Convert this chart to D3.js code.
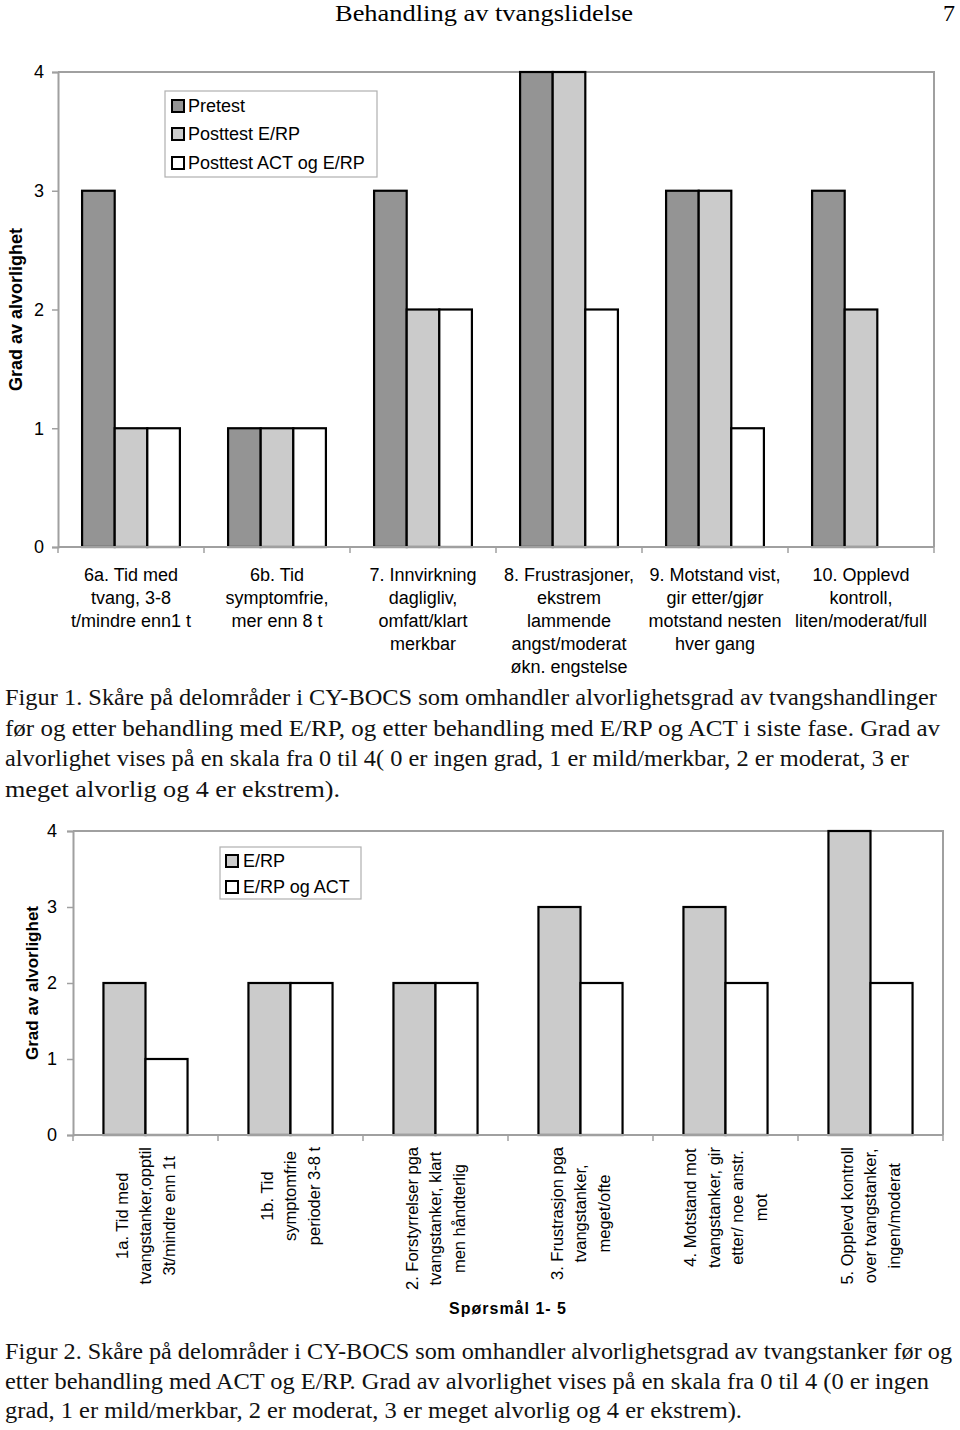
<!DOCTYPE html>
<html><head><meta charset="utf-8">
<script src="https://cdn.jsdelivr.net/npm/d3@7/dist/d3.min.js"></script>
<style>
html,body{margin:0;padding:0;background:#fff;}
svg{display:block;}
.sans{font-family:"Liberation Sans",Arial,sans-serif;}
.serif{font-family:"Liberation Serif","Times New Roman",serif;}
</style></head>
<body>
<svg id="page" width="960" height="1430"></svg>
<script>
// ---------- DATA ----------
const categories1 = [
  ["6a. Tid med","tvang, 3-8","t/mindre enn1 t"],
  ["6b. Tid","symptomfrie,","mer enn 8 t"],
  ["7. Innvirkning","dagligliv,","omfatt/klart","merkbar"],
  ["8. Frustrasjoner,","ekstrem","lammende","angst/moderat","økn. engstelse"],
  ["9. Motstand vist,","gir etter/gjør","motstand nesten","hver gang"],
  ["10. Opplevd","kontroll,","liten/moderat/full"]
];
const series1Names = ["Pretest","Posttest E/RP","Posttest ACT og E/RP"];
const pretest     = [3,1,3,4,3,3];
const posttestERP = [1,1,2,4,3,2];
const posttestACT = [1,1,2,2,1,0];

const categories2 = [
  ["1a. Tid med","tvangstanker,opptil","3t/mindre enn 1t"],
  ["1b. Tid","symptomfrie","perioder 3-8 t"],
  ["2. Forstyrrelser pga","tvangstanker, klart","men håndterlig"],
  ["3. Frustrasjon pga","tvangstanker,","meget/ofte"],
  ["4. Motstand mot","tvangstanker, gir","etter/ noe anstr.","mot"],
  ["5. Opplevd kontroll","over tvangstanker,","ingen/moderat"]
];
const series2Names = ["E/RP","E/RP og ACT"];
const erp    = [2,2,2,3,3,4];
const erpAct = [1,2,2,2,2,2];

const yTicks = [0,1,2,3,4];
const yTitle = "Grad av alvorlighet";
const xTitle2 = "Spørsmål 1- 5";

const headerTitle = "Behandling av tvangslidelse";
const pageNumber = "7";
const caption1 = [
  "Figur 1. Skåre på delområder i CY-BOCS som omhandler alvorlighetsgrad av tvangshandlinger",
  "før og etter behandling med E/RP, og etter behandling med E/RP og ACT i siste fase. Grad av",
  "alvorlighet vises på en skala fra 0 til 4( 0 er ingen grad, 1 er mild/merkbar, 2 er moderat, 3 er",
  "meget alvorlig og 4 er ekstrem)."
];
const caption2 = [
  "Figur 2. Skåre på delområder i CY-BOCS som omhandler alvorlighetsgrad av tvangstanker før og",
  "etter behandling med ACT og E/RP. Grad av alvorlighet vises på en skala fra 0 til 4 (0 er ingen",
  "grad, 1 er mild/merkbar, 2 er moderat, 3 er meget alvorlig og 4 er ekstrem)."
];

// ---------- DRAW ----------
const svg = d3.select("#page");
const GRAY = "#a0a0a0";

// header
svg.append("text").attr("class","serif").attr("x",335).attr("y",21)
  .attr("font-size",24).attr("textLength",298).attr("lengthAdjust","spacingAndGlyphs")
  .text(headerTitle);
svg.append("text").attr("class","serif").attr("x",949).attr("y",21)
  .attr("font-size",24).attr("text-anchor","middle").text(pageNumber);

function captionBlock(lines, widths, x0, y0, lh, fs){
  lines.forEach((t,i)=>{
    svg.append("text").attr("class","serif").attr("x",x0).attr("y",y0+i*lh)
      .attr("font-size",fs).attr("textLength",widths[i]).attr("lengthAdjust","spacingAndGlyphs")
      .attr("fill","#111").text(t);
  });
}
captionBlock(caption1,[932,935,904,335],5,705,30.5,23);
captionBlock(caption2,[947,924,737],5,1359,29.5,23);

function drawChart(opt){
  const g = svg.append("g").attr("class","sans");
  const y = d3.scaleLinear().domain([0,4]).range([opt.y0,opt.y1]);
  const x = d3.scaleBand().domain(d3.range(opt.cats.length))
    .range([opt.x0,opt.x1]).paddingInner(opt.pad).paddingOuter(opt.pad/2);
  const xs = d3.scaleBand().domain(d3.range(opt.series.length)).range([0,x.bandwidth()]);
  const idx = d3.scaleLinear().domain([0,opt.cats.length]).range([opt.x0,opt.x1]);

  // frame (top + right)
  g.append("path").attr("d",`M${opt.x0},${opt.y1}H${opt.x1}V${opt.y0}`)
    .attr("fill","none").attr("stroke",GRAY).attr("stroke-width",2);

  // bars
  opt.series.forEach((vals,s)=>{
    g.selectAll(null).data(vals.map((v,i)=>({v,i})).filter(d=>d.v>0)).enter()
      .append("rect")
      .attr("x",d=>x(d.i)+xs(s)).attr("width",xs.bandwidth())
      .attr("y",d=>y(d.v)).attr("height",d=>y(0)-y(d.v))
      .attr("fill",opt.colors[s]).attr("stroke","#000").attr("stroke-width",2.2);
  });

  // y axis
  const ya = g.append("g").attr("transform",`translate(${opt.x0},0)`)
    .call(d3.axisLeft(y).tickValues(yTicks).tickFormat(d3.format("d")).tickSizeOuter(0).tickSize(6).tickPadding(opt.tickPad));
  ya.select(".domain").attr("stroke",GRAY).attr("stroke-width",2);
  ya.selectAll(".tick line").attr("stroke",GRAY).attr("stroke-width",1.5);
  ya.selectAll(".tick text").attr("font-size",18).attr("fill","#000")
    .attr("font-family","Liberation Sans, Arial, sans-serif");

  // x axis baseline + boundary ticks
  g.append("line").attr("x1",opt.x0).attr("x2",opt.x1).attr("y1",y(0)).attr("y2",y(0))
    .attr("stroke",GRAY).attr("stroke-width",2);
  g.selectAll(null).data(d3.range(opt.cats.length+1)).enter().append("line")
    .attr("x1",d=>idx(d)).attr("x2",d=>idx(d)).attr("y1",y(0)).attr("y2",y(0)+6)
    .attr("stroke",GRAY).attr("stroke-width",1.5);

  // y title
  g.append("text").attr("transform",`translate(${opt.yTitleX},${(y(0)+y(4))/2}) rotate(-90)`)
    .attr("text-anchor","middle").attr("font-weight","bold").attr("font-size",opt.yTitleSize)
    .attr("dy","0.35em").text(yTitle);

  // legend
  const L = opt.legend;
  g.append("rect").attr("x",L.x).attr("y",L.y).attr("width",L.w).attr("height",L.h)
    .attr("fill","#fff").attr("stroke","#b0b0b0").attr("stroke-width",1.2);
  opt.names.forEach((n,i)=>{
    const cy = L.rowY[i];
    g.append("rect").attr("x",L.sx).attr("y",cy-6).attr("width",12).attr("height",12)
      .attr("fill",opt.colors[i]).attr("stroke","#000").attr("stroke-width",2);
    g.append("text").attr("x",L.tx).attr("y",cy).attr("dy","0.36em").attr("font-size",18).text(n);
  });
  return {x,y,g};
}

// Chart 1
const c1 = drawChart({
  cats:categories1, series:[pretest,posttestERP,posttestACT], names:series1Names,
  colors:["#949494","#cbcbcb","#ffffff"],
  x0:58, x1:934, y0:547, y1:72, pad:0.33, tickPad:8,
  yTitleX:16, yTitleSize:18,
  legend:{x:165,y:91,w:212,h:86,sx:172,tx:188,rowY:[106,134,163]}
});
categories1.forEach((lines,i)=>{
  const cx = c1.x(i)+c1.x.bandwidth()/2;
  const t = c1.g.append("text").attr("text-anchor","middle").attr("font-size",18);
  lines.forEach((ln,j)=>{
    t.append("tspan").attr("x",cx).attr("y",581+j*23).text(ln);
  });
});

// Chart 2
const c2 = drawChart({
  cats:categories2, series:[erp,erpAct], names:series2Names,
  colors:["#cbcbcb","#ffffff"],
  x0:73, x1:943, y0:1135, y1:831, pad:0.42, tickPad:10,
  yTitleX:32, yTitleSize:17,
  legend:{x:220,y:847,w:141,h:52,sx:226,tx:243,rowY:[861,887]}
});
categories2.forEach((lines,i)=>{
  const cx = c2.x(i)+c2.x.bandwidth()/2;
  const texts = lines.map(ln=>c2.g.append("text").attr("font-size",16.5).attr("text-anchor","middle").text(ln));
  const maxLen = d3.max(texts, t=>t.node().getComputedTextLength());
  const midY = 1147 + maxLen/2;
  const n = lines.length;
  texts.forEach((t,j)=>{
    const lx = cx + (j-(n-1)/2)*23.5;
    t.attr("transform",`translate(${lx},${midY}) rotate(-90)`).attr("dy","0.35em");
  });
});
c2.g.append("text").attr("x",508).attr("y",1314).attr("text-anchor","middle")
  .attr("font-weight","bold").attr("font-size",16).attr("letter-spacing",1).text(xTitle2);
</script>
</body></html>
